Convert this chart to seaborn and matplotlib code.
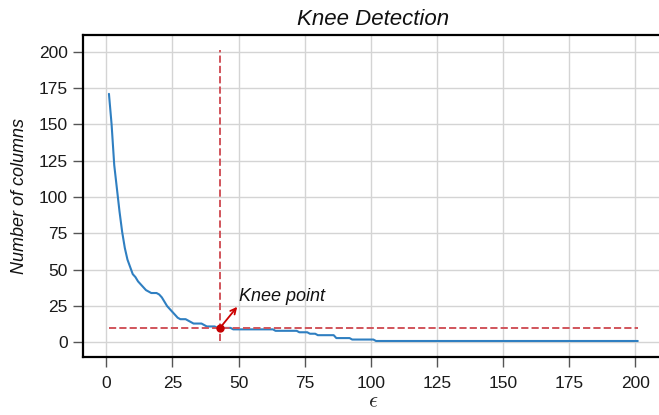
import matplotlib
matplotlib.use("Agg")
import matplotlib.pyplot as plt
import seaborn as sns
import pandas as pd

# ---- data ----
eps = [1, 2, 3, 4, 5, 6, 7, 8, 9, 10, 11, 12, 13, 14, 15, 16, 17, 18, 19, 20,
       21, 22, 23, 24, 25, 26, 27, 28, 29, 30, 31, 32, 33, 36, 37, 38, 41, 42,
       43, 47, 48, 63, 64, 72, 73, 76, 77, 79, 80, 86, 87, 92, 93, 101, 102, 201]
n_cols = [171, 150, 122, 106, 90, 76, 65, 57, 52, 47, 45, 42, 40, 38, 36, 35, 34, 34, 34, 33,
          31, 28, 25, 23, 21, 19, 17, 16, 16, 16, 15, 14, 13, 13, 12, 11, 11, 10,
          10, 10, 9, 9, 8, 8, 7, 7, 6, 6, 5, 5, 3, 3, 2, 2, 1, 1]
knee_x = 43
knee_y = 10
x_ticks = [0, 25, 50, 75, 100, 125, 150, 175, 200]
y_ticks = [0, 25, 50, 75, 100, 125, 150, 175, 200]

df = pd.DataFrame({"eps": eps, "n_cols": n_cols})

sns.set_style("whitegrid")
plt.rcParams["font.family"] = ["Liberation Sans", "DejaVu Sans"]
plt.rcParams["mathtext.fontset"] = "cm"

fig = plt.figure(figsize=(6.59, 4.15), dpi=100)
ax = fig.add_axes([0.1252, 0.1398, 0.8827, 0.7759])

sns.lineplot(data=df, x="eps", y="n_cols", ax=ax, color="#2f7fc1", linewidth=1.5)

red = "#d1545b"
ax.vlines(knee_x, 1, 201, colors=red, linestyles="--", linewidth=1.4)
ax.hlines(knee_y, min(eps), max(eps), colors=red, linestyles="--", linewidth=1.4)
ax.plot([knee_x], [knee_y], "o", color="#c40000", markersize=5, zorder=5)
ax.annotate("", xy=(49.5, 24.5), xytext=(knee_x, knee_y),
            arrowprops=dict(arrowstyle="->", color="#cc0000", lw=1.3,
                            shrinkA=2, shrinkB=0))
ax.text(50.3, 25.5, "Knee point", fontsize=13, style="italic", color="#111111",
        ha="left", va="bottom")

ax.set_xlim(-9, 211)
ax.set_ylim(-10, 211.5)
ax.set_xticks(x_ticks)
ax.set_yticks(y_ticks)

ax.grid(True, color="#d4d4d4", linewidth=1.0)
for s in ax.spines.values():
    s.set_color("black")
    s.set_linewidth(1.6)

ax.tick_params(axis="both", which="major", direction="out", length=7, width=1,
               color="#555555", labelsize=12.5, labelcolor="#1a1a1a",
               bottom=True, left=True)
ax.tick_params(axis="x", pad=7)
ax.tick_params(axis="y", pad=3.5)

ax.set_title("Knee Detection", fontsize=16, style="italic", color="#111111", pad=7)
ax.set_xlabel(r"$\epsilon$", fontsize=16, color="#222222", labelpad=0)
ax.set_ylabel("Number of columns", fontsize=13, style="italic", color="#111111", labelpad=8)

fig.savefig("out.png", dpi=100)
